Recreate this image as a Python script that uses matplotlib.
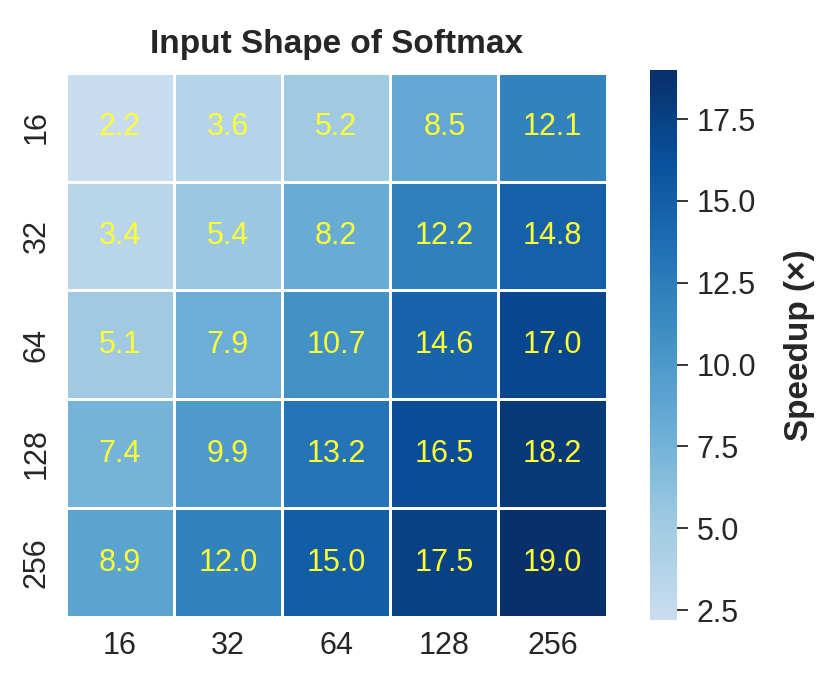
import numpy as np
import pandas as pd
import matplotlib
matplotlib.use("Agg")
import matplotlib.pyplot as plt
from matplotlib.colors import LinearSegmentedColormap
from matplotlib.ticker import MultipleLocator
import seaborn as sns

# softmax input shapes (rows x cols) and measured speedups
row_labels = ["16", "32", "64", "128", "256"]
col_labels = ["16", "32", "64", "128", "256"]
speedup_16 = [2.2, 3.6, 5.2, 8.5, 12.1]
speedup_32 = [3.4, 5.4, 8.2, 12.2, 14.8]
speedup_64 = [5.1, 7.9, 10.7, 14.6, 17.0]
speedup_128 = [7.4, 9.9, 13.2, 16.5, 18.2]
speedup_256 = [8.9, 12.0, 15.0, 17.5, 19.0]


def main():
    sns.set_theme(style="white")
    plt.rcParams['font.family'] = ['Liberation Sans', 'DejaVu Sans']

    df = pd.DataFrame([speedup_16, speedup_32, speedup_64, speedup_128, speedup_256],
                      index=row_labels, columns=col_labels)

    # Blues without the near-white end
    blues = plt.get_cmap("Blues")
    cmap = LinearSegmentedColormap.from_list("blues_cut", blues(np.linspace(0.24, 1.0, 256)))

    fig = plt.figure(figsize=(8.31, 6.73), dpi=100)
    ax = fig.add_axes([0.079, 0.083, 0.651, 0.809])
    cax = fig.add_axes([0.782, 0.079, 0.033, 0.817])

    sns.heatmap(df, ax=ax, cbar_ax=cax, cmap=cmap, annot=True, fmt=".1f",
                linewidths=2, linecolor="white",
                annot_kws={"color": "#ffff33", "fontsize": 22})

    ax.set_title("Input Shape of Softmax", fontsize=24, fontweight="bold", pad=14)
    ax.tick_params(axis="both", labelsize=22, length=0, pad=10)
    ax.set_yticklabels(row_labels, rotation=90, va="center")
    ax.set_xticklabels(col_labels, rotation=0)

    cbar = ax.collections[0].colorbar
    cbar.outline.set_visible(False)
    cbar.ax.yaxis.set_major_locator(MultipleLocator(2.5))
    cbar.ax.tick_params(labelsize=22, length=8, width=1.3, color="#262626",
                        direction="out", pad=6)
    cbar.set_label("Speedup (×)", fontsize=24, fontweight="bold", labelpad=20)

    fig.savefig("out.png", dpi=100)


if __name__ == '__main__':
    main()
